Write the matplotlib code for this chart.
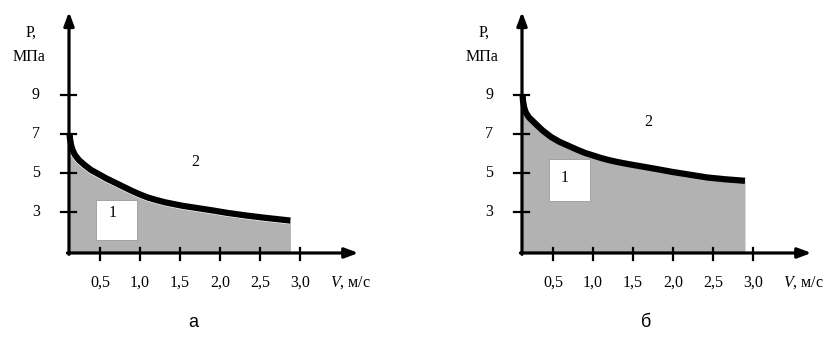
import matplotlib.pyplot as plt
from matplotlib.patches import Rectangle

plt.rcParams['font.family'] = ['Liberation Serif', 'DejaVu Serif']
plt.rcParams['mathtext.fontset'] = 'custom'
plt.rcParams['mathtext.it'] = 'Liberation Serif:italic'
plt.rcParams['mathtext.rm'] = 'Liberation Serif'

# --- data ---
v_a = [0.12, 0.125, 0.14, 0.16, 0.19, 0.24, 0.31, 0.39, 0.48, 0.58, 0.69, 0.8, 0.9,
       1.0, 1.1, 1.2, 1.31, 1.42, 1.53, 1.72, 1.91, 2.1, 2.33, 2.55, 2.75, 2.88]
p_a = [7.0, 6.75, 6.4, 6.15, 5.9, 5.65, 5.4, 5.15, 4.95, 4.72, 4.5, 4.28, 4.08,
       3.9, 3.74, 3.62, 3.5, 3.41, 3.32, 3.2, 3.08, 2.95, 2.82, 2.71, 2.62, 2.56]

v_b = [0.12, 0.125, 0.14, 0.16, 0.2, 0.275, 0.37, 0.475, 0.58, 0.69, 0.8, 0.9,
       1.0, 1.1, 1.2, 1.31, 1.45, 1.62, 1.8, 2.0, 2.2, 2.43, 2.65, 2.9]
p_b = [9.0, 8.7, 8.35, 8.1, 7.85, 7.55, 7.18, 6.85, 6.6, 6.4, 6.2, 6.03,
       5.9, 5.77, 5.66, 5.56, 5.45, 5.33, 5.2, 5.05, 4.92, 4.77, 4.68, 4.6]

x_ticks = [0.5, 1.0, 1.5, 2.0, 2.5, 3.0]
x_labels = ['0,5', '1,0', '1,5', '2,0', '2,5', '3,0']
y_ticks = [3, 5, 7, 9]
y_labels = ['3', '5', '7', '9']

fig = plt.figure(figsize=(8.32, 3.39), dpi=100)
ax_a = fig.add_axes([0, 0, 0.5, 1])
ax_b = fig.add_axes([0.5, 0, 0.5, 1])
ax_a.set_xlim(-0.75, 4.45)
ax_b.set_xlim(-1.2125, 3.9875)

x0, y0 = 0.1125, 0.9   # where the axes cross
fs = 11.5


def panel(ax, v, p, box_y, lbl1, lbl2, letter, gap):
    ax.set_ylim(-3.51, 13.87)
    ax.axis('off')

    ax.fill_between(v, y0, p, color='#b2b2b2', lw=0, zorder=1)
    if gap:
        ax.plot(v, p, color='white', lw=5.4, solid_capstyle='butt', zorder=2)
    ax.plot(v, p, color='black', lw=4.5, solid_capstyle='butt', zorder=3)

    # axes with arrows
    ax.annotate('', xy=(x0, 13.26), xytext=(x0, y0 - 0.07),
                arrowprops=dict(arrowstyle='-|>,head_length=0.8,head_width=0.3',
                                lw=2.3, color='black', shrinkA=0, shrinkB=0), zorder=4)
    ax.annotate('', xy=(3.73, y0), xytext=(x0 - 0.02, y0),
                arrowprops=dict(arrowstyle='-|>,head_length=0.8,head_width=0.3',
                                lw=2.3, color='black', shrinkA=0, shrinkB=0), zorder=4)

    for t, s in zip(x_ticks, x_labels):
        ax.plot([t, t], [0.54, 1.17], color='black', lw=1.6, zorder=4)
        ax.text(t, -0.6, s, ha='center', va='center', fontsize=fs)
    for t, s in zip(y_ticks, y_labels):
        ax.plot([0.0125, 0.2], [t, t], color='black', lw=1.6, zorder=4)
        ax.text(-0.3, t, s, ha='center', va='center', fontsize=fs)

    ax.text(-0.36, 12.2, 'P,', ha='center', va='center', fontsize=fs)
    ax.text(-0.39, 10.95, 'МПа', ha='center', va='center', fontsize=fs)
    ax.text(3.38, -0.6, r'$V$, м/с', ha='left', va='center', fontsize=fs)

    ax.add_patch(Rectangle((0.45, box_y[0]), 0.51, box_y[1] - box_y[0],
                           facecolor='white', edgecolor='#9a9a9a', lw=0.6, zorder=5))
    ax.text(lbl1[0], lbl1[1], '1', ha='center', va='center', fontsize=fs, zorder=6)
    ax.text(lbl2[0], lbl2[1], '2', ha='center', va='center', fontsize=fs)
    ax.text(1.66, -2.64, letter, ha='center', va='center', fontsize=13,
            family=['Liberation Sans', 'DejaVu Sans'])


panel(ax_a, v_a, p_a, (1.56, 3.62), (0.66, 2.95), (1.69, 5.56), 'а', True)
panel(ax_b, v_b, p_b, (3.56, 5.72), (0.65, 4.74), (1.69, 7.6), 'б', False)

fig.savefig('out.png', dpi=100)
